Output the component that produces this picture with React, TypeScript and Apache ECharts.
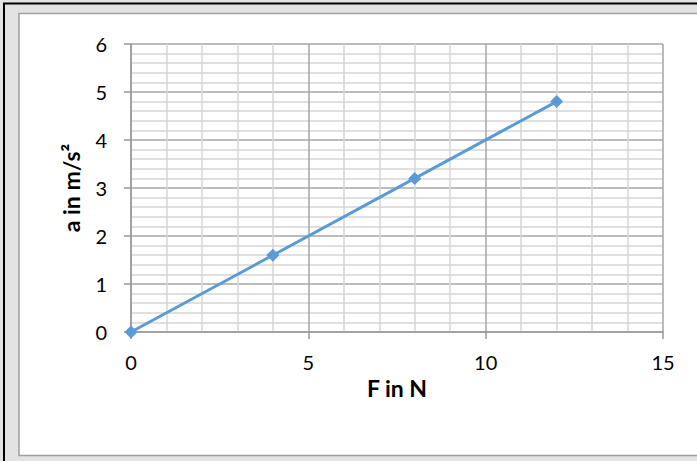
import React, { useEffect, useRef } from "react";
import * as echarts from "echarts";

const forceValues = [0, 4, 8, 12];
const accelValues = [0, 1.6, 3.2, 4.8];
const xAxisTitle = "F in N";
const yAxisTitle = "a in m/s²";

export default function App() {
  const ref = useRef<HTMLDivElement>(null);
  useEffect(() => {
    if (!ref.current) return;
    const chart = echarts.init(ref.current, undefined, { renderer: "svg" });
    const font = "Lato, 'Open Sans', sans-serif";
    chart.setOption({
      animation: false,
      backgroundColor: "#e3e3e3",
      graphic: [
        { type: "rect", z: -10, silent: true, shape: { x: 19, y: 13.5, width: 690, height: 442 }, style: { fill: "#ffffff", stroke: "#a0a0a0", lineWidth: 1.5 } },
        { type: "line", z: -9, silent: true, shape: { x1: 3, y1: 3.5, x2: 697, y2: 3.5 }, style: { stroke: "#000", lineWidth: 2 } },
        { type: "line", z: -9, silent: true, shape: { x1: 4, y1: 3, x2: 4, y2: 461 }, style: { stroke: "#000", lineWidth: 2 } },
      ],
      grid: { left: 131, right: 34, top: 44, bottom: 129, containLabel: false },
      xAxis: {
        type: "value",
        min: 0,
        max: 15,
        interval: 5,
        name: xAxisTitle,
        nameLocation: "middle",
        nameGap: 42,
        nameTextStyle: { fontFamily: font, fontWeight: "bold", fontSize: 23, color: "#000" },
        axisLine: { show: true, lineStyle: { color: "#999", width: 1.5 } },
        axisTick: { show: true, length: 7, lineStyle: { color: "#999", width: 1.5 } },
        axisLabel: { margin: 20, fontFamily: font, fontSize: 20, color: "#000" },
        splitLine: { show: true, lineStyle: { color: "#a6a6a6", width: 1.5 } },
        minorTick: { show: false, splitNumber: 5 },
        minorSplitLine: { show: true, lineStyle: { color: "#d6d6d6", width: 1.5 } },
      },
      yAxis: {
        type: "value",
        min: 0,
        max: 6,
        interval: 1,
        name: yAxisTitle,
        nameLocation: "middle",
        nameGap: 49,
        nameTextStyle: { fontFamily: font, fontWeight: "bold", fontSize: 23, color: "#000" },
        axisLine: { show: true, lineStyle: { color: "#999", width: 1.5 } },
        axisTick: { show: true, length: 7, lineStyle: { color: "#999", width: 1.5 } },
        axisLabel: { margin: 24, fontFamily: font, fontSize: 20, color: "#000" },
        splitLine: { show: true, lineStyle: { color: "#a6a6a6", width: 1.5 } },
        minorTick: { show: false, splitNumber: 5 },
        minorSplitLine: { show: true, lineStyle: { color: "#d6d6d6", width: 1.5 } },
      },
      series: [
        {
          type: "line",
          data: forceValues.map((f, i) => [f, accelValues[i]]),
          symbol: "diamond",
          symbolSize: 13,
          lineStyle: { color: "#5b9bd5", width: 3 },
          itemStyle: { color: "#5b9bd5" },
        },
      ],
    });
    return () => chart.dispose();
  }, []);
  return <div ref={ref} style={{ position: "fixed", left: 0, top: 0, width: 697, height: 461 }} />;
}
